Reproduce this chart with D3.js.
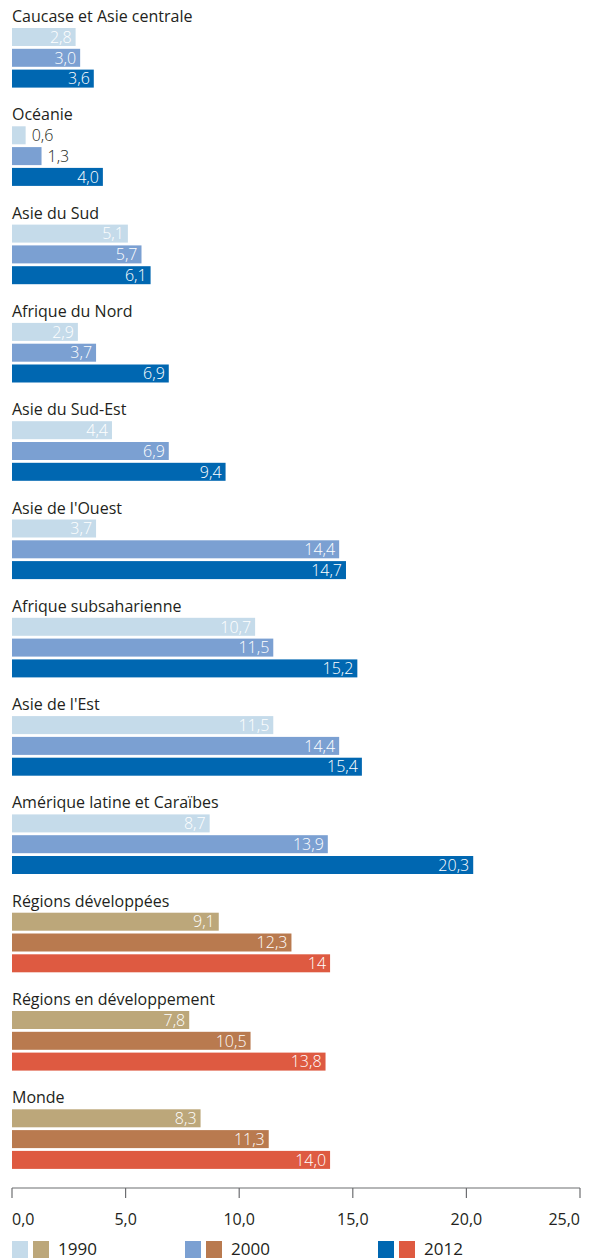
<!DOCTYPE html>
<html>
<head>
<meta charset="utf-8">
<script src="https://cdn.jsdelivr.net/npm/d3@7"></script>
<style>
  body { margin: 0; background: #fff; }
  text { font-family: "Open Sans", "Noto Sans", sans-serif; }
</style>
</head>
<body>
<div id="chart"></div>
<script>
// Regions (top to bottom) and the three years
const regions = [
  "Caucase et Asie centrale", "Océanie", "Asie du Sud", "Afrique du Nord",
  "Asie du Sud-Est", "Asie de l'Ouest", "Afrique subsaharienne", "Asie de l'Est",
  "Amérique latine et Caraïbes", "Régions développées",
  "Régions en développement", "Monde"
];
const years = ["1990", "2000", "2012"];

const values1990 = [2.8, 0.6, 5.1, 2.9, 4.4, 3.7, 10.7, 11.5, 8.7, 9.1, 7.8, 8.3];
const values2000 = [3.0, 1.3, 5.7, 3.7, 6.9, 14.4, 11.5, 14.4, 13.9, 12.3, 10.5, 11.3];
const values2012 = [3.6, 4.0, 6.1, 6.9, 9.4, 14.7, 15.2, 15.4, 20.3, 14.0, 13.8, 14.0];

// the source prints this one without decimals
const labelOverrides = { "Régions développées|2012": "14" };

const xTicks = [0, 5, 10, 15, 20, 25];

// colours: blue set for regions, warm set for aggregates
const blueColors = ["#c5dbea", "#7ba0d2", "#0067b1"];
const warmColors = ["#bca77a", "#b97a4f", "#de5a41"];
const aggregates = ["Régions développées", "Régions en développement", "Monde"];

const width = 593;
const height = 1260;
const groupStep = 98.3;
const barStep = 20.8;
const barH = 18;

const svg = d3.select("#chart").append("svg")
    .attr("width", width)
    .attr("height", height);

const x = d3.scaleLinear().domain([0, 25]).range([12, 580]);
const fmt = v => d3.format(".1f")(v).replace(".", ",");

const series = [values1990, values2000, values2012];

regions.forEach((name, i) => {
  const g = svg.append("g").attr("transform", `translate(0,${6 + i * groupStep})`);
  g.append("text")
      .attr("x", 12)
      .attr("y", 16)
      .attr("font-size", "16px")
      .attr("fill", "#231f20")
      .text(name);

  const colors = aggregates.includes(name) ? warmColors : blueColors;
  series.forEach((vals, j) => {
    const v = vals[i];
    const y = 22 + j * barStep;
    const w = x(v) - x(0);
    g.append("rect")
        .attr("x", x(0))
        .attr("y", y)
        .attr("width", w)
        .attr("height", barH)
        .attr("fill", colors[j]);
    const label = labelOverrides[name + "|" + years[j]] || fmt(v);
    const inside = w > 36;
    g.append("text")
        .attr("x", inside ? x(v) - 4 : x(v) + 6)
        .attr("y", y + barH / 2)
        .attr("dy", "0.36em")
        .attr("text-anchor", inside ? "end" : "start")
        .attr("font-size", "16px")
        .attr("font-weight", 300)
        .attr("fill", inside ? "#fff" : "#231f20")
        .text(label);
  });
});

// x axis
const axisY = 1188;
const axis = svg.append("g").attr("transform", `translate(0,${axisY})`);
axis.append("line")
    .attr("x1", x(0)).attr("x2", x(25))
    .attr("stroke", "#6d6e71").attr("stroke-width", 1.2);
axis.selectAll("line.tick")
  .data(xTicks)
  .join("line")
    .attr("class", "tick")
    .attr("x1", d => x(d)).attr("x2", d => x(d))
    .attr("y1", 0).attr("y2", 10)
    .attr("stroke", "#6d6e71").attr("stroke-width", 1.2);
axis.selectAll("text")
  .data(xTicks)
  .join("text")
    .attr("x", d => x(d))
    .attr("y", 31)
    .attr("dy", "0.36em")
    .attr("text-anchor", (d, i) => i === 0 ? "start" : i === xTicks.length - 1 ? "end" : "middle")
    .attr("font-size", "16px")
    .attr("fill", "#231f20")
    .text(d => fmt(d));

// legend
const legendX = [12, 185, 378];
const legend = svg.append("g").attr("transform", "translate(0,1239)");
years.forEach((yr, j) => {
  legend.append("rect")
      .attr("x", legendX[j]).attr("y", 2)
      .attr("width", 16).attr("height", 17)
      .attr("fill", blueColors[j]);
  legend.append("rect")
      .attr("x", legendX[j] + 21).attr("y", 2)
      .attr("width", 16).attr("height", 17)
      .attr("fill", warmColors[j]);
  legend.append("text")
      .attr("x", legendX[j] + 46)
      .attr("y", 16)
      .attr("font-size", "17px")
      .attr("fill", "#231f20")
      .text(yr);
});
</script>
</body>
</html>
